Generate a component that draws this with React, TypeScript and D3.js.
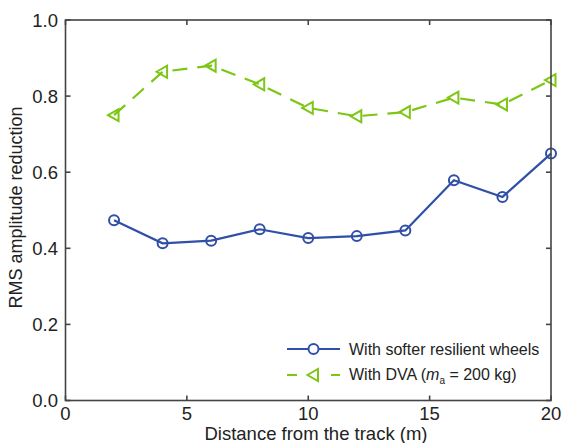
import React, { useEffect, useRef } from 'react';
import * as d3 from 'd3';

const distances = [2, 4, 6, 8, 10, 12, 14, 16, 18, 20];
const softerWheels = [0.474, 0.413, 0.42, 0.45, 0.427, 0.432, 0.447, 0.579, 0.535, 0.649];
const withDVA = [0.75, 0.864, 0.88, 0.831, 0.769, 0.747, 0.758, 0.796, 0.778, 0.842];
const xTicks = [0, 5, 10, 15, 20];
const yTicks = [0, 0.2, 0.4, 0.6, 0.8, 1.0];

const BLUE = '#3050a8';
const GREEN = '#7cc614';
const AXIS = '#444';

export default function App() {
  const svgRef = useRef<SVGSVGElement>(null);
  const width = 563;
  const height = 443;

  useEffect(() => {
    if (!svgRef.current) return;
    const svg = d3.select(svgRef.current);
    svg.selectAll('*').remove();

    const x = d3.scaleLinear().domain([0, 20]).range([65.5, 551]);
    const y = d3.scaleLinear().domain([0, 1]).range([400.5, 20]);
    const font = 'Liberation Sans, Arial, sans-serif';

    const line = d3.line<number>()
      .x((_, i) => x(distances[i]))
      .y(d => y(d));

    // green dashed series
    svg.append('path')
      .datum(withDVA)
      .attr('d', line)
      .attr('fill', 'none')
      .attr('stroke', GREEN)
      .attr('stroke-width', 2.2)
      .attr('stroke-dasharray', '15,10');

    const tri = (cx: number, cy: number, s: number) =>
      `M${cx - s},${cy} L${cx + s * 0.75},${cy - s} L${cx + s * 0.75},${cy + s} Z`;

    svg.selectAll('.tri')
      .data(withDVA)
      .enter().append('path')
      .attr('d', (d, i) => tri(x(distances[i]), y(d), 6))
      .attr('fill', 'none')
      .attr('stroke', GREEN)
      .attr('stroke-width', 2);

    // blue solid series
    svg.append('path')
      .datum(softerWheels)
      .attr('d', line)
      .attr('fill', 'none')
      .attr('stroke', BLUE)
      .attr('stroke-width', 2.2);

    svg.selectAll('.dot')
      .data(softerWheels)
      .enter().append('circle')
      .attr('cx', (_, i) => x(distances[i]))
      .attr('cy', d => y(d))
      .attr('r', 5)
      .attr('fill', 'none')
      .attr('stroke', BLUE)
      .attr('stroke-width', 2);

    // axes box with inward ticks
    const tickLen = 5;
    const axisG = svg.append('g').attr('stroke', AXIS).attr('stroke-width', 1.6);
    axisG.append('rect')
      .attr('x', x(0)).attr('y', y(1))
      .attr('width', x(20) - x(0)).attr('height', y(0) - y(1))
      .attr('fill', 'none');
    xTicks.forEach(t => {
      axisG.append('line').attr('x1', x(t)).attr('x2', x(t)).attr('y1', y(0)).attr('y2', y(0) - tickLen);
      axisG.append('line').attr('x1', x(t)).attr('x2', x(t)).attr('y1', y(1)).attr('y2', y(1) + tickLen);
    });
    yTicks.forEach(t => {
      axisG.append('line').attr('x1', x(0)).attr('x2', x(0) + tickLen).attr('y1', y(t)).attr('y2', y(t));
      axisG.append('line').attr('x1', x(20)).attr('x2', x(20) - tickLen).attr('y1', y(t)).attr('y2', y(t));
    });

    svg.selectAll('.xlab')
      .data(xTicks)
      .enter().append('text')
      .attr('x', d => x(d))
      .attr('y', 420)
      .attr('text-anchor', 'middle')
      .attr('font-family', font)
      .attr('font-size', 18.5)
      .attr('fill', '#222')
      .text(d => d3.format('d')(d));

    svg.selectAll('.ylab')
      .data(yTicks)
      .enter().append('text')
      .attr('x', 58)
      .attr('y', d => y(d) + 6.5)
      .attr('text-anchor', 'end')
      .attr('font-family', font)
      .attr('font-size', 18.5)
      .attr('fill', '#222')
      .text(d => d3.format('.1f')(d));

    svg.append('text')
      .attr('x', 316)
      .attr('y', 440)
      .attr('text-anchor', 'middle')
      .attr('font-family', font)
      .attr('font-size', 18.5)
      .attr('fill', '#222')
      .text('Distance from the track (m)');

    svg.append('text')
      .attr('transform', `translate(22,207.5) rotate(-90)`)
      .attr('text-anchor', 'middle')
      .attr('font-family', font)
      .attr('font-size', 18)
      .attr('fill', '#222')
      .text('RMS amplitude reduction');

    // legend
    const lx1 = 287, lx2 = 340, lmid = (lx1 + lx2) / 2;
    const ly1 = 349, ly2 = 375;
    svg.append('line').attr('x1', lx1).attr('x2', lx2).attr('y1', ly1).attr('y2', ly1)
      .attr('stroke', BLUE).attr('stroke-width', 2.2);
    svg.append('circle').attr('cx', lmid).attr('cy', ly1).attr('r', 5)
      .attr('fill', 'white').attr('stroke', BLUE).attr('stroke-width', 2);
    svg.append('line').attr('x1', lx1).attr('x2', lx2).attr('y1', ly2).attr('y2', ly2)
      .attr('stroke', GREEN).attr('stroke-width', 2.2).attr('stroke-dasharray', '10,12');
    svg.append('path').attr('d', tri(lmid, ly2, 6))
      .attr('fill', 'white').attr('stroke', GREEN).attr('stroke-width', 2);

    svg.append('text')
      .attr('x', 349).attr('y', 354.5)
      .attr('font-family', font).attr('font-size', 16).attr('fill', '#222')
      .text('With softer resilient wheels');

    const t2 = svg.append('text')
      .attr('x', 349).attr('y', 380)
      .attr('font-family', font).attr('font-size', 16).attr('fill', '#222');
    t2.append('tspan').text('With DVA (');
    t2.append('tspan').attr('font-style', 'italic').text('m');
    t2.append('tspan').attr('font-size', 10).attr('dy', 4).text('a');
    t2.append('tspan').attr('dy', -4).text(' = 200 kg)');
  }, []);

  return (
    <svg
      ref={svgRef}
      width={width}
      height={height}
      style={{ position: 'absolute', left: 0, top: 0 }}
    />
  );
}
